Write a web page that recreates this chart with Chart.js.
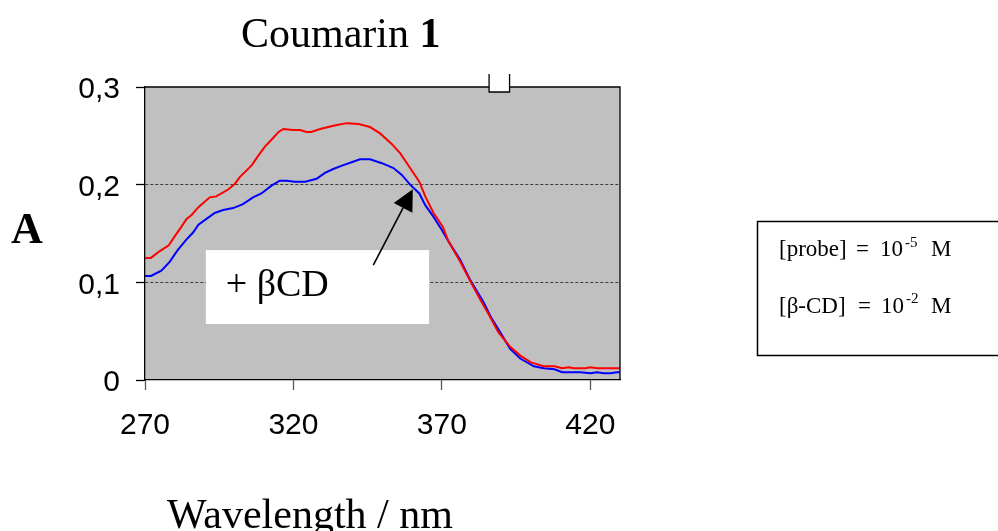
<!DOCTYPE html>
<html><head><meta charset="utf-8">
<script src="https://cdn.jsdelivr.net/npm/chart.js@4.4.0/dist/chart.umd.min.js"></script>
<style>html,body{margin:0;padding:0;background:#fff;}canvas{display:block;}</style>
</head><body>
<canvas id="c" width="998" height="531"></canvas>
<script>
// ---- data ----
const redWavelengths = [270,272,275,278,280,282.3,284,285.7,288,291.8,294,298,300.3,302,306,308,310.4,312.6,315,316.6,320,322.2,324.4,326,329,331.7,334.6,338,342,345.8,349.2,353,356,359.3,362.4,364.4,367.2,370.3,372.2,376.2,379.6,383,385.8,389,393,396.4,400,404.3,408,410.5,412.7,414.4,418.4,420,422.3,430];
const redAbsorbance = [0.125,0.125,0.132,0.138,0.147,0.157,0.165,0.169,0.177,0.187,0.188,0.195,0.201,0.208,0.220,0.229,0.239,0.246,0.254,0.257,0.256,0.256,0.254,0.254,0.257,0.259,0.261,0.263,0.262,0.259,0.2525,0.242,0.232,0.217,0.203,0.188,0.171,0.157,0.142,0.121,0.101,0.082,0.067,0.049,0.034,0.025,0.018,0.014,0.014,0.012,0.013,0.012,0.012,0.013,0.012,0.012];
const blueWavelengths = [270,272,275.5,278.3,281,284,286.2,288,290.7,293.5,296.3,299.7,303,306.4,309.2,312.6,315.4,317.7,320.5,324,327.8,330.6,333.4,336.8,339.6,342.4,345.8,349.8,353.7,356.5,359.3,362.4,364.4,367.2,370,372.2,376.2,379.6,384,386.4,389.8,393,396.4,401,404.3,408,410.5,416.7,420,422.3,424.5,426.8,429,430];
const blueAbsorbance = [0.1065,0.1065,0.112,0.121,0.133,0.144,0.151,0.159,0.165,0.171,0.174,0.176,0.180,0.187,0.191,0.199,0.204,0.204,0.203,0.203,0.206,0.212,0.216,0.220,0.223,0.226,0.226,0.222,0.217,0.210,0.200,0.191,0.179,0.167,0.1535,0.142,0.123,0.102,0.080,0.065,0.048,0.032,0.022,0.014,0.012,0.011,0.008,0.008,0.007,0.008,0.007,0.007,0.008,0.008];
const xTickValues = [270,320,370,420];
const yTickValues = [0,0.1,0.2,0.3];
const yTickLabels = ['0','0,1','0,2','0,3'];
const titleText = 'Coumarin ';
const titleBold = '1';
const xAxisTitle = 'Wavelength / nm';
const yAxisTitle = 'A';
const annotationText = '+ \u03B2CD';
const noteLines = [['[probe]','=','10','-5','M'],['[\u03B2-CD]','=','10','-2','M']];

const SERIF = '"Liberation Serif", "Times New Roman", serif';
const SANS = '"Liberation Sans", Arial, sans-serif';

const decor = {
  id: 'decor',
  beforeDraw(chart) {
    const {ctx, chartArea: a} = chart;
    ctx.save();
    ctx.fillStyle = '#fff';
    ctx.fillRect(0, 0, chart.width, chart.height);
    ctx.fillStyle = '#C0C0C0';
    ctx.fillRect(a.left, a.top, a.right - a.left, a.bottom - a.top);
    ctx.restore();
  },
  afterDraw(chart) {
    const {ctx, chartArea: a, scales: {x, y}} = chart;
    ctx.save();
    // plot frame top & right
    ctx.strokeStyle = '#000';
    ctx.lineWidth = 1.3;
    ctx.beginPath();
    ctx.moveTo(a.left, a.top);
    ctx.lineTo(a.right, a.top);
    ctx.lineTo(a.right, a.bottom);
    ctx.stroke();

    // small notch on top border
    const nx1 = x.getPixelForValue(385.9), nx2 = x.getPixelForValue(392.8);
    const ny1 = a.top - 13, ny2 = a.top + 5;
    ctx.fillStyle = '#fff';
    ctx.fillRect(nx1, ny1, nx2 - nx1, ny2 - ny1);
    ctx.beginPath();
    ctx.moveTo(nx1, ny1); ctx.lineTo(nx1, ny2); ctx.lineTo(nx2, ny2); ctx.lineTo(nx2, ny1);
    ctx.stroke();

    // annotation box
    const bx1 = x.getPixelForValue(290.5), bx2 = x.getPixelForValue(365.7);
    const by1 = y.getPixelForValue(0.133), by2 = y.getPixelForValue(0.0573);
    ctx.fillStyle = '#fff';
    ctx.fillRect(bx1, by1, bx2 - bx1, by2 - by1);
    ctx.fillStyle = '#000';
    ctx.font = '38px ' + SERIF;
    ctx.textBaseline = 'alphabetic';
    ctx.textAlign = 'left';
    ctx.fillText(annotationText, x.getPixelForValue(297.2), y.getPixelForValue(0.086));

    // arrow
    const tx = x.getPixelForValue(346.9), ty = y.getPixelForValue(0.1177);
    const hx = x.getPixelForValue(360.2), hy = y.getPixelForValue(0.1952);
    const dx = hx - tx, dy = hy - ty, len = Math.hypot(dx, dy);
    const ux = dx / len, uy = dy / len;
    const hl = 21, hw = 10.5;
    const bmx = hx - ux * hl, bmy = hy - uy * hl;
    ctx.strokeStyle = '#000';
    ctx.lineWidth = 1.6;
    ctx.beginPath(); ctx.moveTo(tx, ty); ctx.lineTo(bmx, bmy); ctx.stroke();
    ctx.beginPath();
    ctx.moveTo(hx, hy);
    ctx.lineTo(bmx - uy * hw, bmy + ux * hw);
    ctx.lineTo(bmx + uy * hw, bmy - ux * hw);
    ctx.closePath(); ctx.fill();

    // title
    ctx.font = '42px ' + SERIF;
    const w1 = ctx.measureText(titleText).width;
    ctx.font = 'bold 42px ' + SERIF;
    const w2 = ctx.measureText(titleBold).width;
    const tx0 = 340.7 - (w1 + w2) / 2;
    ctx.font = '42px ' + SERIF;
    ctx.fillText(titleText, tx0, 46.5);
    ctx.font = 'bold 42px ' + SERIF;
    ctx.fillText(titleBold, tx0 + w1, 46.5);

    // y axis title
    ctx.font = 'bold 44px ' + SERIF;
    ctx.fillText(yAxisTitle, 11, 243);

    // x axis title
    ctx.font = '42px ' + SERIF;
    ctx.textAlign = 'center';
    ctx.fillText(xAxisTitle, 310, 528);
    ctx.textAlign = 'left';

    // note box
    ctx.lineWidth = 1.5;
    ctx.strokeRect(757.5, 221.5, 260, 134);
    const baselines = [256, 312.5];
    const pieceX = [[779, 856, 880, 905, 931], [779, 858, 881, 906, 931]];
    const pieceFont = ['23px ', '23px ', '23px ', '15px ', '23px '];
    const pieceRise = [0, 0, 0, -9.5, 0];
    noteLines.forEach((parts, i) => {
      parts.forEach((p, j) => {
        ctx.font = pieceFont[j] + SERIF;
        ctx.fillText(p, pieceX[i][j], baselines[i] + pieceRise[j]);
      });
    });
    ctx.restore();
  }
};

new Chart(document.getElementById('c'), {
  type: 'line',
  data: {
    datasets: [
      {
        label: 'Coumarin 1',
        data: redWavelengths.map((w, i) => ({x: w, y: redAbsorbance[i]})),
        borderColor: '#FF0000', borderWidth: 2, pointRadius: 0, fill: false, tension: 0
      },
      {
        label: 'Coumarin 1 + \u03B2CD',
        data: blueWavelengths.map((w, i) => ({x: w, y: blueAbsorbance[i]})),
        borderColor: '#0000FF', borderWidth: 2, pointRadius: 0, fill: false, tension: 0
      }
    ]
  },
  options: {
    responsive: false,
    animation: false,
    devicePixelRatio: 1,
    layout: {padding: {top: 87, right: 378, left: 0, bottom: 0}},
    plugins: {legend: {display: false}, title: {display: false}, tooltip: {enabled: false}},
    scales: {
      x: {
        type: 'linear', min: 270, max: 430,
        afterBuildTicks: s => { s.ticks = xTickValues.map(v => ({value: v})); },
        afterFit: s => { s.height = 151; },
        ticks: {callback: v => String(v), font: {family: SANS, size: 30}, color: '#000', padding: 18, maxRotation: 0, autoSkip: false},
        grid: {drawOnChartArea: false, tickLength: 10, tickColor: '#555', tickWidth: 1.3},
        border: {display: true, color: '#000', width: 1.3}
      },
      y: {
        type: 'linear', min: 0, max: 0.3,
        afterBuildTicks: s => { s.ticks = yTickValues.map(v => ({value: v})); },
        afterFit: s => { s.width = 145; },
        ticks: {callback: (v, i) => yTickLabels[i], font: {family: SANS, size: 30}, color: '#000', padding: 16, labelOffset: 3},
        grid: {
          color: c => (c.tick && (c.tick.value === 0.1 || c.tick.value === 0.2)) ? '#3a3a3a' : 'rgba(0,0,0,0)',
          lineWidth: 1, tickLength: 9, tickColor: '#000', tickWidth: 1.3
        },
        border: {display: true, color: '#000', width: 1.3, dash: [3, 2]}
      }
    }
  },
  plugins: [decor]
});
</script>
</body></html>
